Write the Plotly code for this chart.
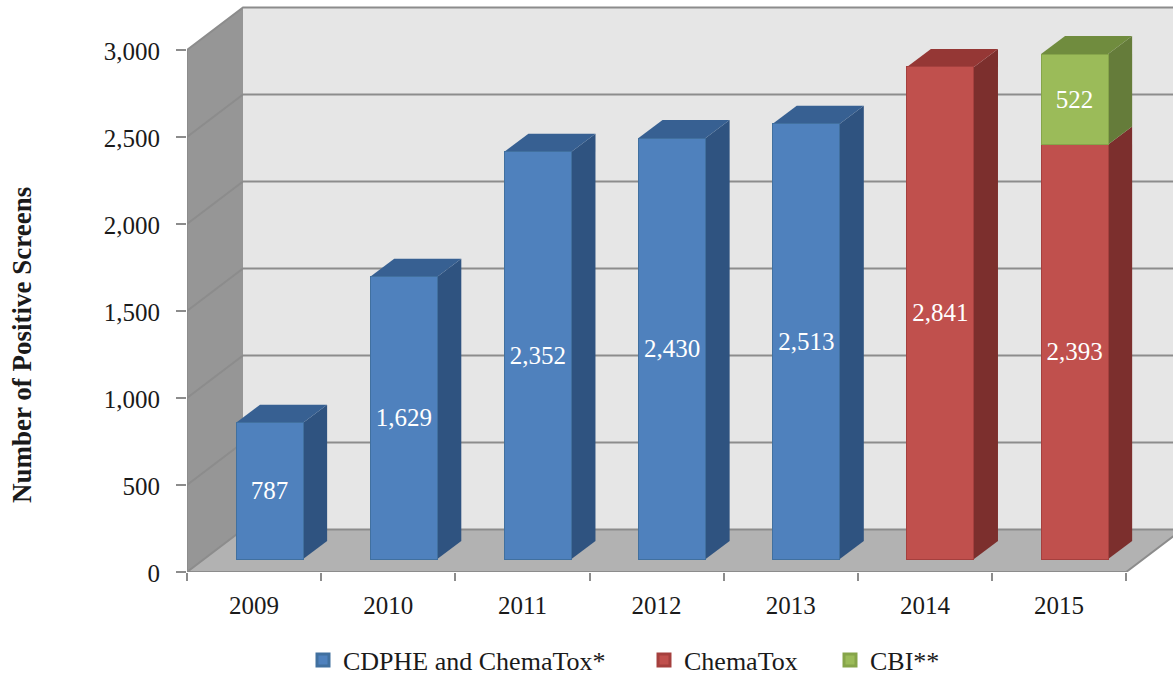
import plotly.graph_objects as go

years = [2009, 2010, 2011, 2012, 2013, 2014, 2015]
cdphe = [787, 1629, 2352, 2430, 2513, None, None]
chematox = [None, None, None, None, None, 2841, 2393]
cbi = [None, None, None, None, None, None, 522]
y_ticks = [0, 500, 1000, 1500, 2000, 2500, 3000]
series_names = ["CDPHE and ChemaTox*", "ChemaTox", "CBI**"]

FRONT = ["#4f81bd", "#c0504d", "#9bbb59"]
SIDE = ["#2f5380", "#7c2f2d", "#657c3a"]
TOP = ["#376092", "#953735", "#708c3e"]
EDGE = ["#41709f", "#a5403e", "#86a54a"]
FONT = "Liberation Serif"
GRID = "#8c8c8c"
INK = "#1a1a1a"

W, H = 1173, 675
PL, PT, PB = 187, 4, 103
PLOT_H = H - PT - PB
PX_X = 134.17          # pixels per year
PX_Y = 522 / 3000      # axis scale, px per unit
PX_Y2 = 0.1732         # bar plane scale, px per unit
x_lo = years[0] - 0.5
x_hi = x_lo + (W - PL) / PX_X
x_end = years[-1] + 0.5
# box depth
BOX_DX = 56 / PX_X
BOX_DY = 42.5 / PX_Y
y_max = PLOT_H / PX_Y
y2_lo = -13 / PX_Y2
y2_hi = y2_lo + PLOT_H / PX_Y2
# bar geometry
BAR_W = 0.5
BAR_OFF = -0.25 + 15.5 / PX_X
BAR_DX = 24 / PX_X
BAR_DY = 18 / PX_Y2


def poly(pts, fill, yref="y", line=None, lw=0):
    d = "M" + " L".join(f"{a},{b}" for a, b in pts) + " Z"
    return dict(type="path", path=d, xref="x", yref=yref, fillcolor=fill,
                line=dict(width=lw, color=line or fill), layer="below")


def seg(pts, yref="y"):
    d = "M" + " L".join(f"{a},{b}" for a, b in pts)
    return dict(type="path", path=d, xref="x", yref=yref,
                line=dict(width=2, color=GRID), layer="below")


shapes = []
x_back = x_lo + BOX_DX
# back wall, left wall, floor
shapes.append(poly([(x_back, BOX_DY), (x_hi + 1, BOX_DY), (x_hi + 1, 3000 + BOX_DY), (x_back, 3000 + BOX_DY)], "#e6e6e6"))
shapes.append(poly([(x_lo, 0), (x_back, BOX_DY), (x_back, 3000 + BOX_DY), (x_lo, 3000)], "#969696"))
shapes.append(poly([(x_lo, 0), (x_end, 0), (x_end + BOX_DX, BOX_DY), (x_back, BOX_DY)], "#b2b2b2"))
# grid
for t in y_ticks:
    shapes.append(seg([(x_lo, t), (x_back, t + BOX_DY), (x_hi + 1, t + BOX_DY)]))
shapes.append(seg([(x_lo, 3000), (x_lo, 0), (x_end, 0), (x_end + BOX_DX, BOX_DY)]))

# bar side and top faces
for i, yr in enumerate(years):
    base = 0
    x1 = yr + BAR_OFF + BAR_W
    x0 = yr + BAR_OFF
    last = None
    for s, vals in enumerate([cdphe, chematox, cbi]):
        v = vals[i]
        if v is None:
            continue
        shapes.append(poly([(x1, base), (x1 + BAR_DX, base + BAR_DY), (x1 + BAR_DX, base + v + BAR_DY), (x1, base + v)], SIDE[s], "y2"))
        base += v
        last = s
    shapes.append(poly([(x0, base), (x0 + BAR_DX, base + BAR_DY), (x1 + BAR_DX, base + BAR_DY), (x1, base)], TOP[last], "y2"))

fig = go.Figure()
legend_ids = ["legend", "legend2", "legend3"]
for s, vals in enumerate([cdphe, chematox, cbi]):
    fig.add_trace(go.Bar(
        x=years, y=vals, name=series_names[s], yaxis="y2", width=BAR_W, offset=BAR_OFF,
        marker=dict(color=FRONT[s], line=dict(color=EDGE[s], width=1)),
        texttemplate="%{y:,}", textposition="inside", insidetextanchor="middle", textangle=0,
        textfont=dict(family=FONT, size=25, color="#ffffff"),
        showlegend=False, hoverinfo="x+y+name", cliponaxis=False,
    ))
    # legend key only: a heavier outline gives the key its larger square
    fig.add_trace(go.Bar(
        x=[None], y=[None], name=series_names[s], yaxis="y2",
        marker=dict(color=FRONT[s], line=dict(color=EDGE[s], width=3)),
        legend=legend_ids[s], showlegend=True, hoverinfo="skip",
    ))

legend_font = dict(family=FONT, size=26, color=INK)


def legend_at(px):
    return dict(x=px / W, xref="container", xanchor="left", y=(H - 660) / H, yref="container", yanchor="middle",
                font=legend_font, bgcolor="rgba(0,0,0,0)", borderwidth=0, itemwidth=30,
                orientation="h", traceorder="normal", itemclick=False, itemdoubleclick=False)


fig.update_layout(
    width=W, height=H, autosize=False,
    margin=dict(l=PL, r=0, t=PT, b=PB, pad=0),
    paper_bgcolor="#ffffff", plot_bgcolor="#ffffff",
    barmode="stack", bargap=0.5,
    shapes=shapes,
    font=dict(family=FONT, color=INK),
    xaxis=dict(range=[x_lo, x_hi], tickvals=years, ticktext=[str(y) for y in years], ticks="",
               showgrid=False, zeroline=False, showline=False, ticklen=0,
               tickfont=dict(family=FONT, size=25, color=INK),
               ticklabelstandoff=16,
               minor=dict(tickvals=[x_lo + k for k in range(len(years) + 1)], ticks="outside", ticklen=8,
                          tickwidth=2, tickcolor=GRID, showgrid=False)),
    yaxis=dict(range=[0, y_max], tickvals=y_ticks, tickformat=",", ticks="outside", ticklen=10, tickwidth=2,
               tickcolor=GRID, showgrid=False, zeroline=False, showline=False,
               tickfont=dict(family=FONT, size=25, color=INK), ticklabelstandoff=11, ticklabelshift=1),
    yaxis2=dict(range=[y2_lo, y2_hi], overlaying="y", visible=False, showgrid=False, zeroline=False),
    legend=legend_at(303),
    legend2=legend_at(644),
    legend3=legend_at(830),
    annotations=[dict(text="<b>Number of Positive Screens</b>", xref="paper", yref="paper",
                      x=(22 - PL) / (W - PL), y=(572 - 345) / PLOT_H, xanchor="center", yanchor="middle",
                      textangle=-90, showarrow=False, font=dict(family=FONT, size=27, color=INK))],
)

fig.write_html("out.html", config={"displayModeBar": False}, post_script="document.body.style.margin='0';")
